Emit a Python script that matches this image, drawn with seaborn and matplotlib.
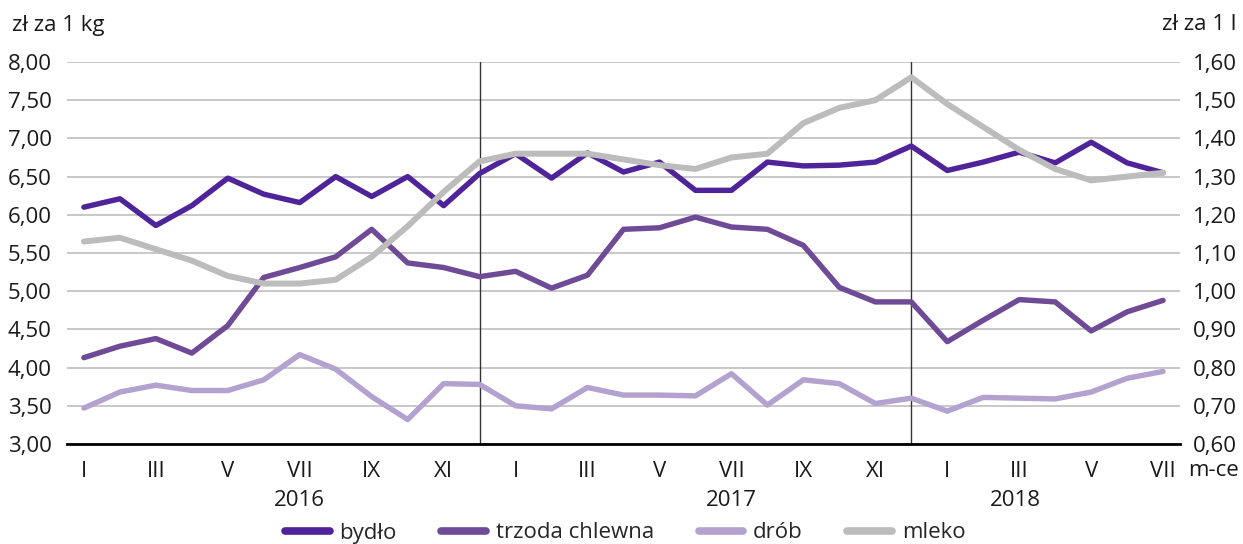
"""Przeciętne ceny skupu: bydło, trzoda chlewna, drób (zł/kg) i mleko (zł/l), I 2016 - VII 2018."""

import pandas as pd
import numpy as np
import matplotlib
matplotlib.use('Agg')
import matplotlib.pyplot as plt
import matplotlib.transforms as mtransforms
from matplotlib.ticker import FuncFormatter, MultipleLocator
from matplotlib.lines import Line2D
import seaborn as sns

# months I 2016 .. VII 2018
ROMAN = ["I", "II", "III", "IV", "V", "VI", "VII", "VIII", "IX", "X", "XI", "XII"]
months = [ROMAN[i % 12] for i in range(31)]
years = ["2016", "2017", "2018"]

bydlo = [6.10, 6.21, 5.86, 6.12, 6.48, 6.27, 6.16, 6.50, 6.24, 6.50, 6.12, 6.54,
         6.80, 6.48, 6.81, 6.56, 6.69, 6.32, 6.32, 6.69, 6.64, 6.65, 6.69, 6.90,
         6.58, 6.69, 6.82, 6.68, 6.95, 6.68, 6.55]
trzoda = [4.13, 4.28, 4.38, 4.19, 4.55, 5.18, 5.31, 5.45, 5.81, 5.37, 5.31, 5.19,
          5.26, 5.04, 5.21, 5.81, 5.83, 5.97, 5.84, 5.81, 5.60, 5.05, 4.86, 4.86,
          4.34, 4.62, 4.89, 4.86, 4.48, 4.73, 4.88]
drob = [3.47, 3.68, 3.77, 3.70, 3.70, 3.84, 4.17, 3.98, 3.62, 3.32, 3.79, 3.78,
        3.50, 3.46, 3.74, 3.64, 3.64, 3.63, 3.92, 3.51, 3.84, 3.79, 3.53, 3.60,
        3.43, 3.61, 3.60, 3.59, 3.68, 3.86, 3.95]
mleko = [1.13, 1.14, 1.11, 1.08, 1.04, 1.02, 1.02, 1.03, 1.09, 1.17, 1.26, 1.34,
         1.36, 1.36, 1.36, 1.345, 1.33, 1.32, 1.35, 1.36, 1.44, 1.48, 1.50, 1.56,
         1.49, 1.43, 1.37, 1.32, 1.29, 1.30, 1.31]

COLORS = {"bydło": "#4F2399", "trzoda chlewna": "#6F4A96", "drób": "#B3A2CF", "mleko": "#BCBCBC"}

sns.set_theme(style="white")
plt.rcParams["font.family"] = ["Open Sans", "DejaVu Sans"]
plt.rcParams["font.size"] = 16
FS = 16
TXT = "#1a1a1a"

idx = np.arange(len(months))
left = pd.DataFrame({
    "m": np.tile(idx, 3),
    "cena": bydlo + trzoda + drob,
    "rodzaj": ["bydło"] * 31 + ["trzoda chlewna"] * 31 + ["drób"] * 31,
})
milk = pd.DataFrame({"m": idx, "cena": mleko})

fig = plt.figure(figsize=(12.43, 5.44), dpi=100)
ax = fig.add_axes([67 / 1243, 1 - 444 / 544, (1180 - 67) / 1243, (444 - 62) / 544])

sns.lineplot(data=left, x="m", y="cena", hue="rodzaj", palette=COLORS, linewidth=3.9,
             legend=False, ax=ax)
ax2 = ax.twinx()
sns.lineplot(data=milk, x="m", y="cena", color=COLORS["mleko"], linewidth=4.3, ax=ax2)

comma = FuncFormatter(lambda v, p: f"{v:.2f}".replace(".", ","))
ax.set_ylim(3, 8)
ax.yaxis.set_major_locator(MultipleLocator(0.5))
ax.yaxis.set_major_formatter(comma)
ax2.set_ylim(0.6, 1.6)
ax2.yaxis.set_major_locator(MultipleLocator(0.1))
ax2.yaxis.set_major_formatter(comma)
ax.set_xlim(-0.47, 30.47)

ax.grid(axis="y", color="#C4C4C4", linewidth=1.3)
ax.set_axisbelow(True)
for a in (ax, ax2):
    a.set_xlabel("")
    a.set_ylabel("")
    for s in ["top", "left", "right", "bottom"]:
        a.spines[s].set_visible(False)
ax.spines["bottom"].set_visible(True)
ax.spines["bottom"].set_color("black")
ax.spines["bottom"].set_linewidth(2)

ax.set_xticks(idx)
ax.set_xticklabels([m if i % 2 == 0 else "" for i, m in enumerate(months)])
ax.tick_params(axis="x", direction="in", length=4, width=1.2, color="black",
               pad=12, labelsize=FS, labelcolor=TXT)
ax.tick_params(axis="y", length=0, pad=11, labelsize=FS, labelcolor=TXT)
ax2.tick_params(axis="y", length=0, pad=9, labelsize=FS, labelcolor=TXT)

# year separators (at December)
for x in (11, 23):
    ax.axvline(x, color="#333333", linewidth=1.0, zorder=1)

trans = mtransforms.blended_transform_factory(ax.transData, fig.transFigure)
for yr, xpos in zip(years, [6, 18, 25.9]):
    ax.text(xpos, 1 - 500 / 544, yr, transform=trans, ha="center", va="center",
            fontsize=FS, color=TXT)
ax.text(31.4, 1 - 471 / 544, "m-ce", transform=trans, ha="center", va="center",
        fontsize=FS, color=TXT, clip_on=False)

fig.text(12 / 1243, 1 - 25 / 544, "zł za 1 kg", ha="left", va="center", fontsize=FS, color=TXT)
fig.text(1236 / 1243, 1 - 25 / 544, "zł za 1 l", ha="right", va="center", fontsize=FS, color=TXT)

handles = [Line2D([], [], color=c, linewidth=5.5) for c in COLORS.values()]
fig.legend(handles, list(COLORS.keys()), loc="center", bbox_to_anchor=(0.503, 1 - 533 / 544),
           ncol=4, frameon=False, fontsize=FS, handlelength=2.0, handletextpad=0.45,
           columnspacing=2.0)

fig.savefig("out.png", dpi=100)
plt.close(fig)
